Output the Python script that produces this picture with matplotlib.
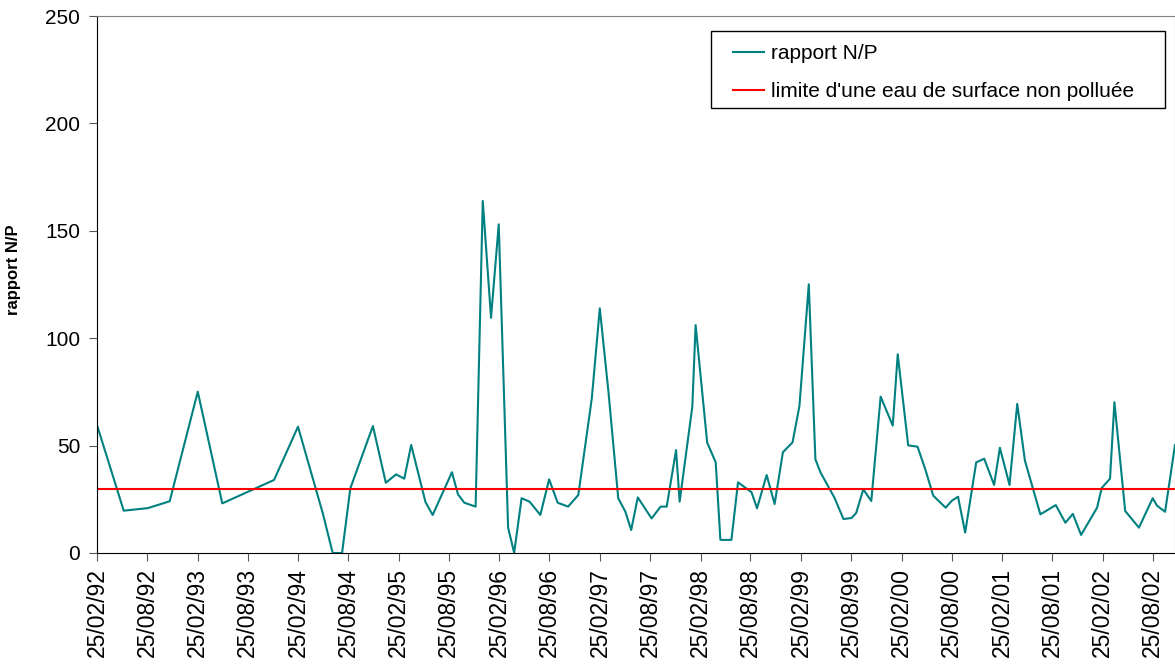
import pandas as pd
import matplotlib
matplotlib.use("Agg")
import matplotlib.pyplot as plt
import matplotlib.dates as mdates
from matplotlib.patches import Rectangle

plt.rcParams["font.family"] = ["Liberation Sans", "DejaVu Sans"]

# sampling dates and N/P ratio
dates = [
    "1992-02-25", "1992-06-01", "1992-08-28", "1992-11-15", "1993-02-25",
    "1993-05-25", "1993-11-29", "1994-02-24", "1994-05-25", "1994-06-30",
    "1994-08-03", "1994-09-02", "1994-11-23", "1995-01-09", "1995-02-15",
    "1995-03-17", "1995-04-11", "1995-06-02", "1995-06-28", "1995-09-06",
    "1995-09-28", "1995-10-21", "1995-12-01", "1995-12-27", "1996-01-26",
    "1996-02-23", "1996-03-28", "1996-04-19", "1996-05-16", "1996-06-14",
    "1996-07-23", "1996-08-24", "1996-09-24", "1996-11-01", "1996-12-08",
    "1997-01-26", "1997-02-24", "1997-03-28", "1997-05-02", "1997-05-28",
    "1997-06-18", "1997-07-12", "1997-08-31", "1997-10-03", "1997-10-25",
    "1997-11-28", "1997-12-11", "1998-01-26", "1998-02-07", "1998-03-21",
    "1998-04-21", "1998-05-08", "1998-06-17", "1998-07-11", "1998-08-29",
    "1998-09-18", "1998-10-23", "1998-11-21", "1998-12-21", "1999-01-25",
    "1999-02-19", "1999-03-25", "1999-04-18", "1999-05-07", "1999-06-26",
    "1999-07-29", "1999-08-27", "1999-09-13", "1999-10-09", "1999-11-07",
    "1999-12-11", "2000-01-24", "2000-02-11", "2000-03-20", "2000-04-23",
    "2000-05-22", "2000-06-19", "2000-08-03", "2000-08-26", "2000-09-17",
    "2000-10-13", "2000-11-22", "2000-12-21", "2001-01-26", "2001-02-16",
    "2001-03-23", "2001-04-20", "2001-05-18", "2001-07-13", "2001-09-07",
    "2001-10-12", "2001-11-08", "2001-12-08", "2002-02-04", "2002-02-21",
    "2002-03-23", "2002-04-08", "2002-05-17", "2002-07-06", "2002-08-25",
    "2002-09-10", "2002-10-09", "2002-11-14",
]
ratio_np = [
    59.6, 19.7, 20.9, 24.1, 75.1,
    23.1, 34.0, 58.8, 18.5, 0.0,
    0.0, 30.1, 59.1, 32.7, 36.6,
    34.6, 50.3, 23.7, 17.7, 37.6,
    27.3, 23.4, 21.6, 163.9, 109.5,
    153.0, 11.8, 0.1, 25.5, 23.9,
    17.7, 34.3, 23.4, 21.6, 27.0,
    72.0, 113.9, 74.3, 25.5, 19.2,
    10.7, 25.9, 16.1, 21.6, 21.6,
    47.9, 23.9, 68.1, 106.1, 51.4,
    42.2, 6.1, 6.1, 32.9, 28.3,
    20.8, 36.3, 22.8, 46.9, 51.5,
    68.4, 125.1, 43.6, 37.4, 25.8,
    15.8, 16.3, 18.6, 29.6, 24.2,
    72.8, 59.3, 92.5, 50.1, 49.5,
    38.6, 26.7, 21.1, 24.4, 26.2,
    9.5, 42.2, 43.9, 31.7, 49.0,
    31.7, 69.4, 43.0, 18.0, 22.3,
    14.1, 18.2, 8.4, 21.1, 30.3,
    34.6, 70.2, 19.6, 11.8, 25.5,
    22.0, 19.2, 50.3,
]
limit_value = 30

x = pd.to_datetime(dates)

fig = plt.figure(figsize=(11.75, 6.68), dpi=100)
ax = fig.add_axes([97 / 1175, (668 - 553) / 668, 1078 / 1175, 537 / 668])

ax.plot(x, ratio_np, color="#008080", lw=1.5, label="rapport N/P")
ax.axhline(limit_value, color="#ff0000", lw=1.5,
           label="limite d'une eau de surface non polluée")

ax.set_xlim(x[0], x[-1])
ax.set_ylim(0, 250)
ax.set_yticks(range(0, 251, 50))
ax.xaxis.set_major_locator(mdates.MonthLocator(bymonth=(2, 8), bymonthday=25))
ax.xaxis.set_major_formatter(mdates.DateFormatter("%d/%m/%y"))
ax.tick_params(axis="x", labelsize=16.5, rotation=90, length=6, color="#555555", pad=5)
ax.tick_params(axis="y", labelsize=15, length=6, color="#555555", pad=6)

ax.set_ylabel("rapport N/P", fontsize=12, fontweight="bold")
ax.yaxis.set_label_coords(-0.0705, 0.527)

for side in ("top", "right"):
    ax.spines[side].set_color("#808080")
for side in ("left", "bottom"):
    ax.spines[side].set_color("#000000")

# legend text without its own frame, box drawn separately to match the wide padding
ax.legend(loc="upper left", bbox_to_anchor=(0.5807, 0.9665), fontsize=15,
          frameon=False, handlelength=1.45, handletextpad=0.35,
          labelspacing=0.9, borderpad=0.5, borderaxespad=0)
ax.add_patch(Rectangle((0.5696, 0.8287), 0.4211, 0.1434, transform=ax.transAxes,
                       fill=False, edgecolor="black", lw=1.0, zorder=5,
                       clip_on=False))

fig.savefig("out.png", dpi=100)
